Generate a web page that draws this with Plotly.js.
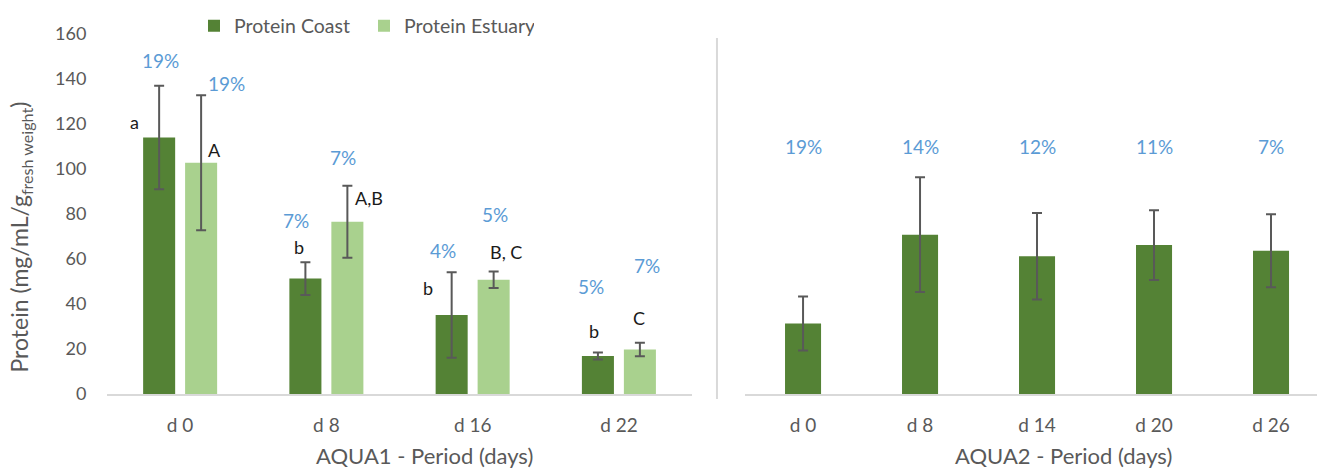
<!DOCTYPE html>
<html>
<head>
<meta charset="utf-8">
<script src="https://cdn.plot.ly/plotly-3.0.1.min.js"></script>
<style>
  html, body { margin: 0; padding: 0; background: #ffffff; }
  #chart { width: 1317px; height: 468px; }
</style>
</head>
<body>
<div id="chart"></div>
<script>
// AQUA1 sampling days (two sites) and AQUA2 sampling days
const aqua1Days = ['d 0', 'd 8', 'd 16', 'd 22'];
const aqua2Days = ['d 0', 'd 8', 'd 14', 'd 20', 'd 26'];

// Protein content, mg/mL/g fresh weight (means and error)
const coastMean = [114, 51.3, 35.1, 16.9];
const coastErr = [23, 7.3, 19, 1.6];
const estuaryMean = [102.8, 76.6, 50.8, 19.8];
const estuaryErr = [30, 16, 3.7, 3];
const aqua2Mean = [31.3, 70.8, 61.2, 66.2, 63.7];
const aqua2Err = [12, 25.5, 19.2, 15.5, 16.2];

// Text labels shown above the bars
const coastPct = ['19%', '7%', '4%', '5%'];
const estuaryPct = ['19%', '7%', '5%', '7%'];
const aqua2Pct = ['19%', '14%', '12%', '11%', '7%'];
const coastLetter = ['a', 'b', 'b', 'b'];
const estuaryLetter = ['A', 'A,B', 'B, C', 'C'];

// Label placement: horizontal offset (category units) and height (axis units)
const coastPctPos = [[-0.137, 148.4], [-0.205, 77.3], [-0.205, 63.6], [-0.19, 47.7]];
const estuaryPctPos = [[0.32, 137.8], [0.113, 105.2], [0.154, 79.9], [0.195, 56.9]];
const coastLetterPos = [[-0.315, 121], [-0.185, 65.5], [-0.305, 47.1], [-0.171, 28.1]];
const estuaryLetterPos = [[0.233, 108.4], [0.29, 87], [0.229, 63.2], [0.14, 33.6]];
const aqua2PctY = 110.2;

const DARK = '#548235';
const LIGHT = '#a9d18e';
const GREY = '#595959';
const AXIS = '#d9d9d9';
const BLUE = '#5b9bd5';
const FONT = 'Lato, "Open Sans", sans-serif';

const errStyle = (arr) => ({
  type: 'data', array: arr, visible: true,
  color: GREY, thickness: 2, width: 5
});

const traces = [
  {
    type: 'bar', name: 'Protein Coast',
    x: aqua1Days, y: coastMean,
    xaxis: 'x', yaxis: 'y',
    marker: { color: DARK },
    width: 0.219, offset: -0.253,
    error_y: errStyle(coastErr),
    hoverinfo: 'skip'
  },
  {
    type: 'bar', name: 'Protein Estuary',
    x: aqua1Days, y: estuaryMean,
    xaxis: 'x', yaxis: 'y',
    marker: { color: LIGHT },
    width: 0.219, offset: 0.034,
    error_y: errStyle(estuaryErr),
    hoverinfo: 'skip'
  },
  {
    type: 'bar', name: 'AQUA2',
    x: aqua2Days, y: aqua2Mean,
    xaxis: 'x2', yaxis: 'y2',
    marker: { color: DARK },
    width: 0.308,
    error_y: errStyle(aqua2Err),
    showlegend: false,
    hoverinfo: 'skip'
  }
];

const annotations = [];
const addLabels = (texts, pos, color, size, xref, yref) => {
  texts.forEach((t, i) => {
    annotations.push({
      text: t, x: i + pos[i][0], y: pos[i][1],
      xref: xref, yref: yref, showarrow: false,
      xanchor: 'center', yanchor: 'middle',
      font: { family: FONT, size: size, color: color }
    });
  });
};
addLabels(coastPct, coastPctPos, BLUE, 19, 'x', 'y');
addLabels(estuaryPct, estuaryPctPos, BLUE, 19, 'x', 'y');
addLabels(coastLetter, coastLetterPos, '#1a1a1a', 18, 'x', 'y');
addLabels(estuaryLetter, estuaryLetterPos, '#1a1a1a', 18, 'x', 'y');
aqua2Pct.forEach((t, i) => {
  annotations.push({
    text: t, x: i, y: aqua2PctY, xref: 'x2', yref: 'y2',
    showarrow: false, xanchor: 'center', yanchor: 'middle',
    font: { family: FONT, size: 19, color: BLUE }
  });
});

// Period titles under each panel
annotations.push({
  text: 'AQUA1 - Period (days)', xref: 'paper', yref: 'paper',
  x: 0.262, y: -0.172, showarrow: false, xanchor: 'center', yanchor: 'middle',
  font: { family: FONT, size: 22, color: GREY }
});
annotations.push({
  text: 'AQUA2 - Period (days)', xref: 'paper', yref: 'paper',
  x: 0.7905, y: -0.172, showarrow: false, xanchor: 'center', yanchor: 'middle',
  font: { family: FONT, size: 22, color: GREY }
});

// Vertical value-axis title
annotations.push({
  text: 'Protein (mg/mL/g<sub>fresh weight</sub>)', xref: 'paper', yref: 'paper',
  x: -0.0711, y: 0.4375, showarrow: false, textangle: -90,
  xanchor: 'center', yanchor: 'middle',
  font: { family: FONT, size: 23, color: GREY }
});

const layout = {
  width: 1317, height: 468,
  margin: { l: 107, r: 0, t: 34, b: 74 },
  paper_bgcolor: '#ffffff', plot_bgcolor: '#ffffff',
  barmode: 'group',
  showlegend: true,
  legend: {
    orientation: 'h', x: 0.0719, xanchor: 'left',
    y: 1.022, yanchor: 'middle',
    font: { family: FONT, size: 19.5, color: GREY },
    entrywidth: 125, bgcolor: 'rgba(0,0,0,0)'
  },
  xaxis: {
    domain: [0, 0.4835], anchor: 'y',
    type: 'category', range: [-0.5, 3.5],
    showline: true, linecolor: AXIS, linewidth: 2,
    showgrid: false, zeroline: false,
    ticks: 'outside', ticklen: 13, tickcolor: 'rgba(0,0,0,0)',
    tickfont: { family: FONT, size: 19, color: GREY }, fixedrange: true
  },
  yaxis: {
    domain: [0, 1], anchor: 'x',
    range: [0, 160], dtick: 20, tick0: 0,
    showline: false, showgrid: false, zeroline: false,
    ticks: 'outside', ticklen: 16, tickcolor: 'rgba(0,0,0,0)',
    tickfont: { family: FONT, size: 18, color: GREY },
    fixedrange: true
  },
  xaxis2: {
    domain: [0.5269, 1], anchor: 'y2',
    type: 'category', range: [-0.5, 4.393],
    showline: true, linecolor: AXIS, linewidth: 2,
    showgrid: false, zeroline: false,
    ticks: 'outside', ticklen: 13, tickcolor: 'rgba(0,0,0,0)',
    tickfont: { family: FONT, size: 19, color: GREY }, fixedrange: true
  },
  yaxis2: {
    domain: [0, 1], anchor: 'x2',
    range: [0, 160],
    showline: false, showgrid: false, zeroline: false,
    showticklabels: false, ticks: '', fixedrange: true
  },
  shapes: [
    {
      type: 'line', xref: 'paper', yref: 'paper',
      x0: 0.5041, x1: 0.5041, y0: -0.0139, y1: 0.9889,
      line: { color: AXIS, width: 2 }
    }
  ],
  annotations: annotations
};

Plotly.newPlot('chart', traces, layout, { displayModeBar: false, staticPlot: true });
</script>
</body>
</html>
